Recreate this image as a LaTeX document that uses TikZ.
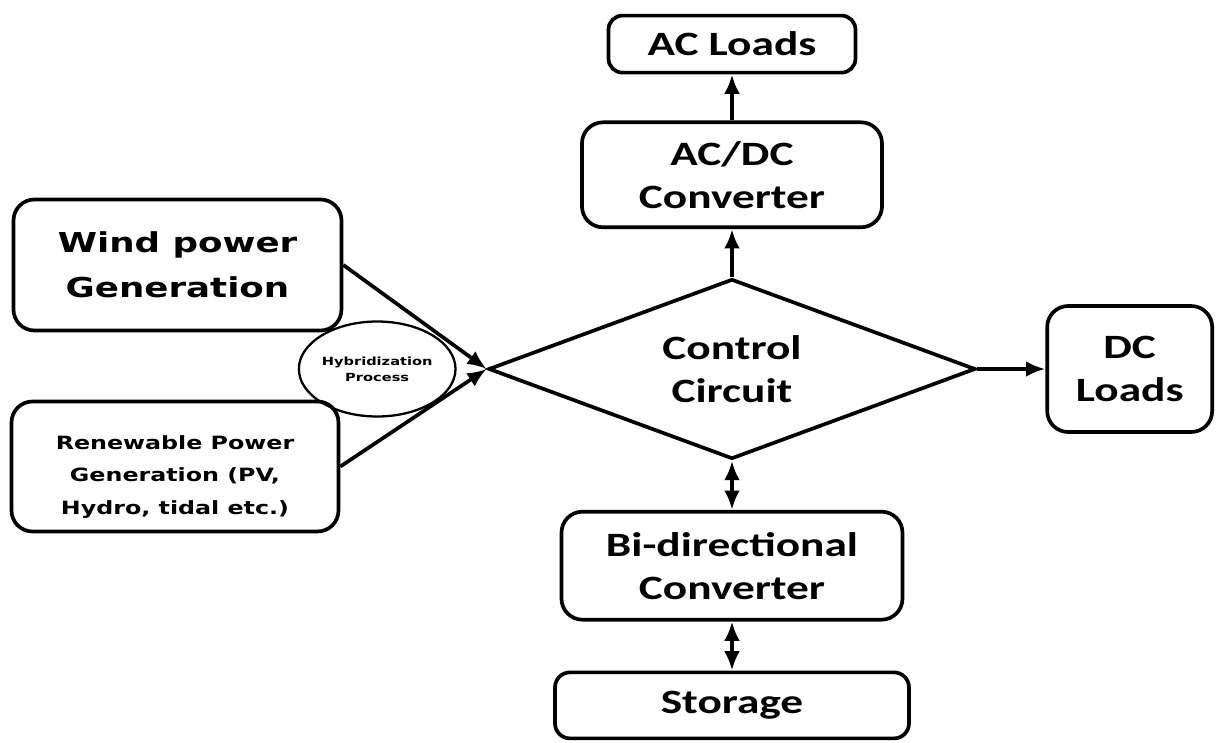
\documentclass[tikz,border=0pt]{standalone}
\usepackage{fontspec}
\setmainfont{Carlito}[FakeStretch=1.33]
\newfontfamily\widesans{DejaVu Sans}[FakeStretch=1.3]
\usetikzlibrary{arrows.meta,positioning,shapes.geometric}

\begin{document}
\begin{tikzpicture}[
	> = {Latex[length=11pt,width=9pt]}, % arrow head style
	line width = 2.1pt, % line style
	B/.style={rectangle, rounded corners=0.42cm, draw=black, align=center, inner sep=0pt, font=\bfseries\fontsize{19.4}{24.5}\selectfont},
	W/.style={B, font=\widesans\bfseries\fontsize{15.6}{25.6}\selectfont},
	R/.style={B, font=\widesans\bfseries\fontsize{10.4}{18.5}\selectfont},
	D/.style={diamond, aspect=2.7, draw=black, align=center, inner sep=0pt, font=\bfseries\fontsize{19.4}{24.5}\selectfont},
	H/.style={ellipse, draw=black, line width=1.3pt, align=center, inner sep=0pt, font=\widesans\bfseries\fontsize{6.4}{9.1}\selectfont},
	]
	\useasboundingbox (-14.64,-7.48) rectangle (9.68,7.38);

	% Nodes and their relative positions
	\node[D, minimum width=9.74cm, minimum height=3.6cm] (ctrl) at (0,0) {Control\\Circuit};
	\node[B, minimum width=6.0cm, minimum height=2.1cm] (acdc) [above = .96 of ctrl] {AC/DC\\Converter};
	\node[B, rounded corners=0.28cm, minimum width=4.94cm, minimum height=1.14cm] (acload) [above = .92 of acdc] {AC Loads};
	\node[B, minimum width=3.3cm, minimum height=2.52cm] (dcload) [right = 1.36 of ctrl] {DC\\Loads};
	\node[B, minimum width=6.82cm, minimum height=2.16cm] (bidir) [below = .98 of ctrl] {Bi-directional\\Converter};
	\node[B, rounded corners=0.3cm, minimum width=7.08cm, minimum height=1.32cm] (store) [below = .98 of bidir] {Storage};
	\node[H, minimum width=2.96cm, minimum height=1.9cm] (hyb) [left = .6 of ctrl] {Hybridization\\Process};
	\node[W, minimum width=6.56cm, minimum height=2.62cm] (wind) at (-11.09,2.08) {Wind power\\Generation};
	\node[R, text height=1.98cm, minimum width=6.54cm, minimum height=2.6cm] (renew) at (-11.14,-1.95) {Renewable Power\\Generation (PV,\\Hydro, tidal etc.)};

	% Paths connecting nodes
	\path[->] (wind.east) edge (ctrl.west);
	\path[->] (renew.east) edge (ctrl.west);
	\path[->] (ctrl) edge (acdc);
	\path[->] (acdc) edge (acload);
	\path[->] (ctrl) edge (dcload);
	\path[<->] (ctrl) edge (bidir);
	\path[<->] (bidir) edge (store);

\end{tikzpicture}
\end{document}
